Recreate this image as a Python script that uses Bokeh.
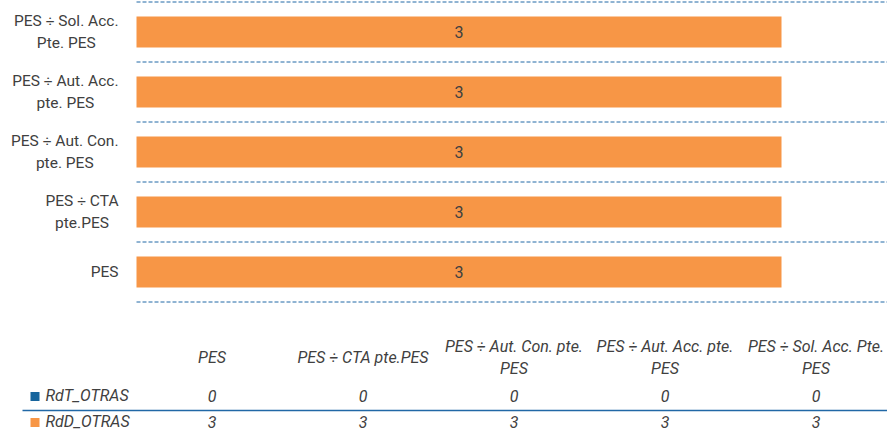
from bokeh.plotting import figure
from bokeh.models import Range1d, ColumnDataSource
from bokeh.embed import file_html
from bokeh.resources import INLINE
from bokeh.core.properties import value

# ---------------- data ----------------
categories = ["PES", "PES ÷ CTA pte.PES", "PES ÷ Aut. Con. pte. PES",
              "PES ÷ Aut. Acc. pte. PES", "PES ÷ Sol. Acc. Pte. PES"]
axis_labels = ["PES", "PES ÷ CTA\npte.PES", "PES ÷ Aut. Con.\npte. PES",
               "PES ÷ Aut. Acc.\npte. PES", "PES ÷ Sol. Acc.\nPte. PES"]
table_headers = ["PES", "PES ÷ CTA pte.PES", "PES ÷ Aut. Con. pte.\nPES",
                 "PES ÷ Aut. Acc. pte.\nPES", "PES ÷ Sol. Acc. Pte.\nPES"]
series_names = ["RdT_OTRAS", "RdD_OTRAS"]
rdt_values = [0, 0, 0, 0, 0]
rdd_values = [3, 3, 3, 3, 3]

# ---------------- style / layout constants ----------------
FONT = "Roboto"
ORANGE = "#F79646"
BLUE = "#17659D"
GRID_BLUE = "#2168A6"
TEXT_COLOR = "#404040"

W, H = 887, 431
PLOT_X0 = 136          # left edge of bar area (px)
PX_PER_UNIT = 215.0    # px per value unit
CAT_PX = 60.0          # px per category band
CAT_BOTTOM = 301.5     # px of the lowest category boundary
COL_W = 151.0          # px per table column
n = len(categories)

x_start = -PLOT_X0 / PX_PER_UNIT
x_end = (W - PLOT_X0) / PX_PER_UNIT
y_end = CAT_BOTTOM / CAT_PX
y_start = (CAT_BOTTOM - H) / CAT_PX

p = figure(width=W, height=H, output_backend="svg", toolbar_location=None,
           x_range=Range1d(x_start, x_end), y_range=Range1d(y_start, y_end),
           min_border_left=0, min_border_right=0, min_border_top=0, min_border_bottom=0)
p.extra_x_ranges = {"tab": Range1d(-PLOT_X0 / COL_W, (W - PLOT_X0) / COL_W)}
p.extra_y_ranges = {"tab": Range1d(0, H)}
p.outline_line_color = None
p.axis.visible = False
p.grid.visible = False
p.background_fill_color = "white"
p.border_fill_color = "white"

# ---------------- bars ----------------
y_pos = [i + 0.5 for i in range(n)]
right_rdt = list(rdt_values)
right_rdd = [a + b for a, b in zip(rdt_values, rdd_values)]
src = ColumnDataSource(dict(y=y_pos, l1=[0] * n, r1=right_rdt, l2=right_rdt, r2=right_rdd,
                            mid=[(a + b) / 2 for a, b in zip(right_rdt, right_rdd)],
                            lab=[str(v) for v in rdd_values], cat=axis_labels))

# dashed category separators
p.segment(x0=[0] * (n + 1), x1=[x_end] * (n + 1), y0=list(range(n + 1)), y1=list(range(n + 1)),
          line_color=GRID_BLUE, line_width=1, line_dash="4 2")

p.hbar(y="y", left="l1", right="r1", height=0.52, source=src, fill_color=BLUE, line_color=None)
p.hbar(y="y", left="l2", right="r2", height=0.52, source=src, fill_color=ORANGE, line_color=None)
p.text(x="mid", y="y", text="lab", source=src, text_align="center", text_baseline="middle",
       text_font=value(FONT), text_font_size="16px", text_color=TEXT_COLOR)

# category labels (right-anchored block, centred lines)
p.text(x=-18 / PX_PER_UNIT, y="y", text="cat", source=src, text_align="center",
       text_baseline="middle", anchor=value("center_right"),
       text_font=value(FONT), text_font_size="15.5px", text_color=TEXT_COLOR,
       text_line_height=1.25)

# ---------------- data table ----------------
col_x = [i + 0.5 for i in range(n)]
HEAD_V = H - 357
ROW_V = [H - 395, H - 421]
LINE_V = H - 410

hsrc = ColumnDataSource(dict(x=col_x, y=[HEAD_V] * n, t=table_headers))
p.text(x="x", y="y", text="t", source=hsrc, text_align="center", text_baseline="middle",
       anchor=value("center"), x_range_name="tab", y_range_name="tab",
       text_font=value(FONT), text_font_size="16px", text_font_style="italic",
       text_color=TEXT_COLOR, text_line_height=1.2)

for vals, rv in zip([rdt_values, rdd_values], ROW_V):
    vsrc = ColumnDataSource(dict(x=col_x, y=[rv] * n, t=[str(v) for v in vals]))
    p.text(x="x", y="y", text="t", source=vsrc, text_align="center", text_baseline="middle",
           x_range_name="tab", y_range_name="tab",
           text_font=value(FONT), text_font_size="16px", text_font_style="italic",
           text_color=TEXT_COLOR)

sq_u = (34.5 - PLOT_X0) / COL_W
lab_u = (45 - PLOT_X0) / COL_W
p.scatter(x=[sq_u] * 2, y=[v - 1 for v in ROW_V], marker="square", size=9,
          fill_color=[BLUE, ORANGE], line_color=None, x_range_name="tab", y_range_name="tab")
p.text(x=[lab_u] * 2, y=ROW_V, text=series_names, text_align="left", text_baseline="middle",
       x_range_name="tab", y_range_name="tab",
       text_font=value(FONT), text_font_size="16px", text_font_style="italic", text_color=TEXT_COLOR)

line_u0 = (22 - PLOT_X0) / COL_W
p.segment(x0=[line_u0], y0=[LINE_V], x1=[(W - PLOT_X0) / COL_W], y1=[LINE_V],
          line_color=GRID_BLUE, line_width=1.5, x_range_name="tab", y_range_name="tab")

open("out.html", "w").write(file_html(p, INLINE))
